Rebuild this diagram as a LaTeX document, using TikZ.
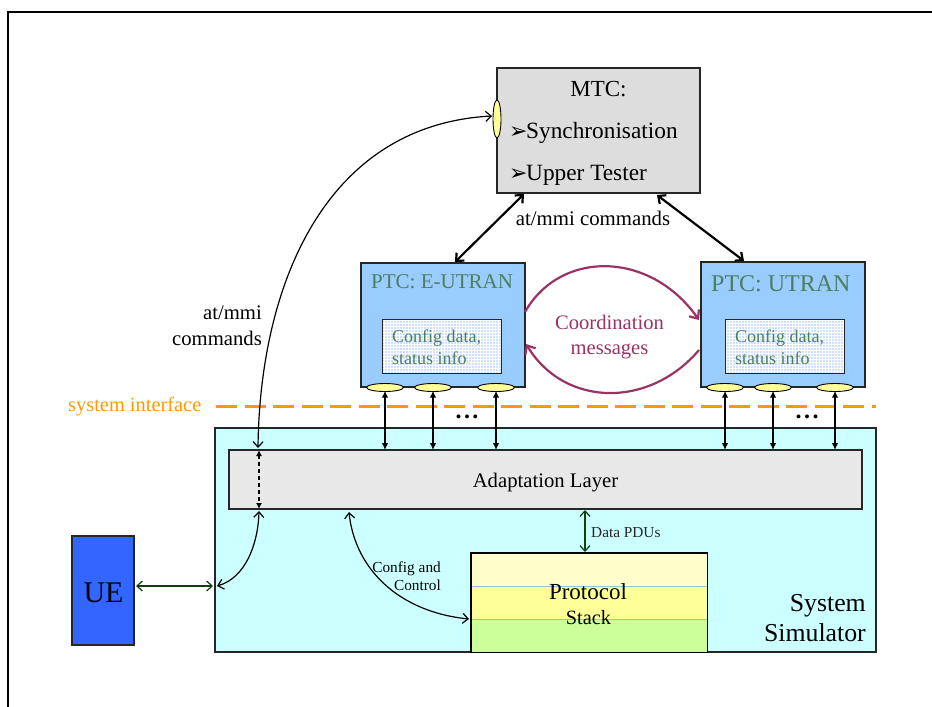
\documentclass[tikz,border=0pt]{standalone}
\usepackage{fontspec}
\setmainfont{Liberation Serif}
\newfontfamily\symfont{DejaVu Sans}
\usetikzlibrary{arrows.meta,patterns,shapes.geometric}
\newcommand{\fsz}[1]{\fontsize{#1}{#1}\selectfont}
\newcommand{\pointer}{\makebox[17pt][l]{\symfont\fsz{22}➢}}
\newcommand{\threedots}{\textbf{.\kern2.5pt.\kern2.5pt.}}
\definecolor{mtcgrey}{HTML}{DDDDDD}
\definecolor{ptcblue}{HTML}{99CCFF}
\definecolor{ptctext}{HTML}{4A7F60}
\definecolor{innerblue}{HTML}{CFE1FF}
\definecolor{simcyan}{HTML}{CCFFFF}
\definecolor{adaptgrey}{HTML}{E8E8E8}
\definecolor{portyellow}{HTML}{FFFF99}
\definecolor{layerA}{HTML}{FFFFCC}
\definecolor{layerB}{HTML}{FFFF99}
\definecolor{layerC}{HTML}{CCFF99}
\definecolor{uefill}{HTML}{3366FF}
\definecolor{darkgreen}{HTML}{0F400F}
\definecolor{plum}{HTML}{993366}
\definecolor{sysorange}{HTML}{FF9900}
\definecolor{seplayer}{HTML}{9CC0D8}
\tikzset{
  boxnode/.style={draw=black!85,line width=1.1pt,inner sep=0pt,outer sep=0pt},
  porth/.style={ellipse,draw=black,line width=0.9pt,fill=portyellow,minimum width=37pt,minimum height=8pt,inner sep=0pt,outer sep=0pt},
  portv/.style={ellipse,draw=black,line width=0.9pt,fill=portyellow,minimum width=8pt,minimum height=38pt,inner sep=0pt,outer sep=0pt},
  inner box/.style={boxnode,line width=0.9pt,preaction={fill=innerblue},preaction={pattern=grid,pattern color=white},minimum width=119pt,minimum height=54pt},
  inner text/.style={text=ptctext,align=left,inner sep=0pt,font=\fsz{18}},
  lbl/.style={inner sep=0pt,align=center},
  conn/.style={line width=1.2pt,{Latex[length=7pt,width=6.5pt]}-{Latex[length=7pt,width=6.5pt]}},
  open/.style={line width=1.2pt,{Straight Barb[length=5.5pt,width=10pt,line width=1.2pt]}-{Straight Barb[length=5.5pt,width=10pt,line width=1.2pt]}},
  thick arrow/.style={line width=2.2pt,{Straight Barb[length=6pt,width=11pt,line width=2.2pt]}-{Straight Barb[length=6pt,width=11pt,line width=2.2pt]}},
  green arrow/.style={open,draw=darkgreen,line width=1.5pt},
  plum arrow/.style={draw=plum,line width=2.2pt,-{Straight Barb[length=7pt,width=12pt,line width=2.2pt]}},
}
\begin{document}
\begin{tikzpicture}[x=1pt,y=-1pt]
\useasboundingbox (0,0) rectangle (932,707);
% page frame
\draw[line width=2pt] (8,707) -- (8,12) -- (932,12);

% system simulator
\node[boxnode,fill=simcyan,minimum width=661pt,minimum height=224pt] (sim) at (545.5,540) {};
\node[boxnode,fill=adaptgrey,minimum width=633pt,minimum height=59pt] (adapt) at (545.5,479.5) {};
\node[lbl,font=\fsz{20.7}] (adapttext) at (545.5,482.5) {Adaptation Layer};
\node[lbl,font=\fsz{25.8},align=right,anchor=east] (simtext) at (866,618) {System\\[5pt]Simulator};

% protocol stack
\node[inner sep=0pt,fill=layerA,minimum width=236pt,minimum height=33pt] (la) at (589,569.5) {};
\node[inner sep=0pt,fill=layerB,minimum width=236pt,minimum height=33pt] (lb) at (589,602.5) {};
\node[inner sep=0pt,fill=layerC,minimum width=236pt,minimum height=33pt] (lc) at (589,635.5) {};
\draw[seplayer,line width=1.3pt] (la.south west) -- (la.south east);
\draw[seplayer,line width=1.3pt] (lb.south west) -- (lb.south east);
\draw[line width=1.4pt] (la.north west) -- (lc.south west) -- (lc.south east) -- (la.north east) -- cycle;
\node[lbl,font=\fsz{23}] (prot) at (588,592) {Protocol};
\node[lbl,font=\fsz{20.3}] (stack) at (588.5,617.5) {Stack};

% UE
\node[boxnode,fill=uefill,minimum width=62pt,minimum height=109pt] (ue) at (103,590.5) {};
\node[lbl,font=\fsz{30}] (uetext) at (103.5,593) {UE};

% MTC
\node[boxnode,fill=mtcgrey,minimum width=203pt,minimum height=125pt] (mtc) at (598.5,130.5) {};
\node[lbl,font=\fsz{23}] (mtctitle) at (598.5,89) {MTC:};
\node[lbl,font=\fsz{23.3},anchor=west] (sync) at (509,133) {\pointer Synchronisation};
\node[lbl,font=\fsz{23.3},anchor=west] (upper) at (509,175) {\pointer Upper Tester};
\node[portv] (mtcport) at (497,119) {};

% PTC E-UTRAN
\node[boxnode,fill=ptcblue,minimum width=164pt,minimum height=124pt] (ptcE) at (443,325) {};
\node[lbl,text=ptctext,font=\fsz{21},anchor=west] (ptcEt) at (371,282) {PTC: E-UTRAN};
\node[inner box] (cfgE) at (441.5,346) {};
\node[inner text,anchor=west] (cfgEt) at (392,347.5) {Config data,\\[4pt]status info};
\node[porth] (e1) at (385,387.5) {};
\node[porth] (e2) at (433,387.5) {};
\node[porth] (e3) at (496,387.5) {};

% PTC UTRAN
\node[boxnode,fill=ptcblue,minimum width=164pt,minimum height=125pt] (ptcU) at (783,324.5) {};
\node[lbl,text=ptctext,font=\fsz{24},anchor=west] (ptcUt) at (711,284) {PTC: UTRAN};
\node[inner box] (cfgU) at (784.5,346) {};
\node[inner text,anchor=west] (cfgUt) at (735,347.5) {Config data,\\[4pt]status info};
\node[porth] (u1) at (725,387.5) {};
\node[porth] (u2) at (773,387.5) {};
\node[porth] (u3) at (835,387.5) {};

% system interface
\node[lbl,text=sysorange,font=\fsz{20.4},anchor=west] (sysif) at (68,407) {system interface};
\coordinate (sysA) at (216,406);
\coordinate (sysB) at (876,406);
\draw[sysorange,line width=3pt,dash pattern=on 21pt off 7.5pt] (sysA) -- (sysB);

% dots
\node[lbl,font=\fsz{24},anchor=base] (dotsE) at (467,418) {\threedots};
\node[lbl,font=\fsz{24},anchor=base] (dotsU) at (807,418) {\threedots};

% port to adaptation layer arrows
\foreach \p in {e1,e2,e3,u1,u2,u3}{
  \draw[conn] ([yshift=0.8pt]\p.south) -- (\p.south |- adapt.north);
}

% MTC to PTC arrows
\coordinate (mtcL) at (524,194);
\coordinate (ptcEtop) at (455,262);
\coordinate (mtcR) at (657,195);
\coordinate (ptcUtop) at (744,261);
\draw[thick arrow] (mtcL) -- (ptcEtop);
\draw[thick arrow] (mtcR) -- (ptcUtop);
\node[lbl,font=\fsz{20.8}] (atmmiT) at (593,218.5) {at/mmi commands};

% coordination
\coordinate (cE1) at (525,312);
\coordinate (cU1) at (699,320);
\coordinate (cU2) at (699,350);
\coordinate (cE2) at (526,344);
\draw[plum arrow] (cE1) .. controls (560,250) and (650,250) .. (cU1);
\draw[plum arrow] (cU2) .. controls (650,408) and (565,408) .. (cE2);
\node[lbl,text=plum,font=\fsz{20.6}] (coord) at (609.5,337) {Coordination\\[4pt]messages};

% at/mmi curve
\coordinate (adTop) at (258,448);
\draw[open] (adTop) .. controls (260,285) and (325,125) .. ([xshift=-1pt,yshift=3pt]mtcport.west);
\node[lbl,font=\fsz{20.7},align=right,anchor=east] (atmmi) at (262,326) {at/mmi\\[5pt]commands};

% dashed link through adaptation layer
\coordinate (dashTop) at (259,450);
\coordinate (dashBot) at (259,509);
\draw[line width=1.2pt,dash pattern=on 4pt off 3pt,{Latex[length=6pt,width=6pt]}-{Latex[length=6pt,width=6pt]}] (dashTop) -- (dashBot);

% lower curves
\coordinate (simIn) at (217,586);
\coordinate (adBot) at (259,511);
\draw[open] (simIn) .. controls (245,578) and (258,545) .. (adBot);
\coordinate (cfgTop) at (349,512);
\coordinate (stackIn) at (469,619);
\draw[open] (cfgTop) .. controls (355,570) and (400,612) .. (stackIn);
\node[lbl,font=\fsz{15.3},align=right,anchor=east] (cfgctl) at (441,576.5) {Config and\\[3pt]Control};

% green arrows
\coordinate (ueOut) at (136,586);
\coordinate (simEdge) at (213,586);
\draw[green arrow] (ueOut) -- (simEdge);
\coordinate (pduTop) at (585,510);
\coordinate (pduBot) at (585,552);
\draw[green arrow] (pduTop) -- (pduBot);
\node[lbl,font=\fsz{15.3},text=black!85,anchor=west] (pdu) at (591,532.5) {Data PDUs};
\end{tikzpicture}
\end{document}
